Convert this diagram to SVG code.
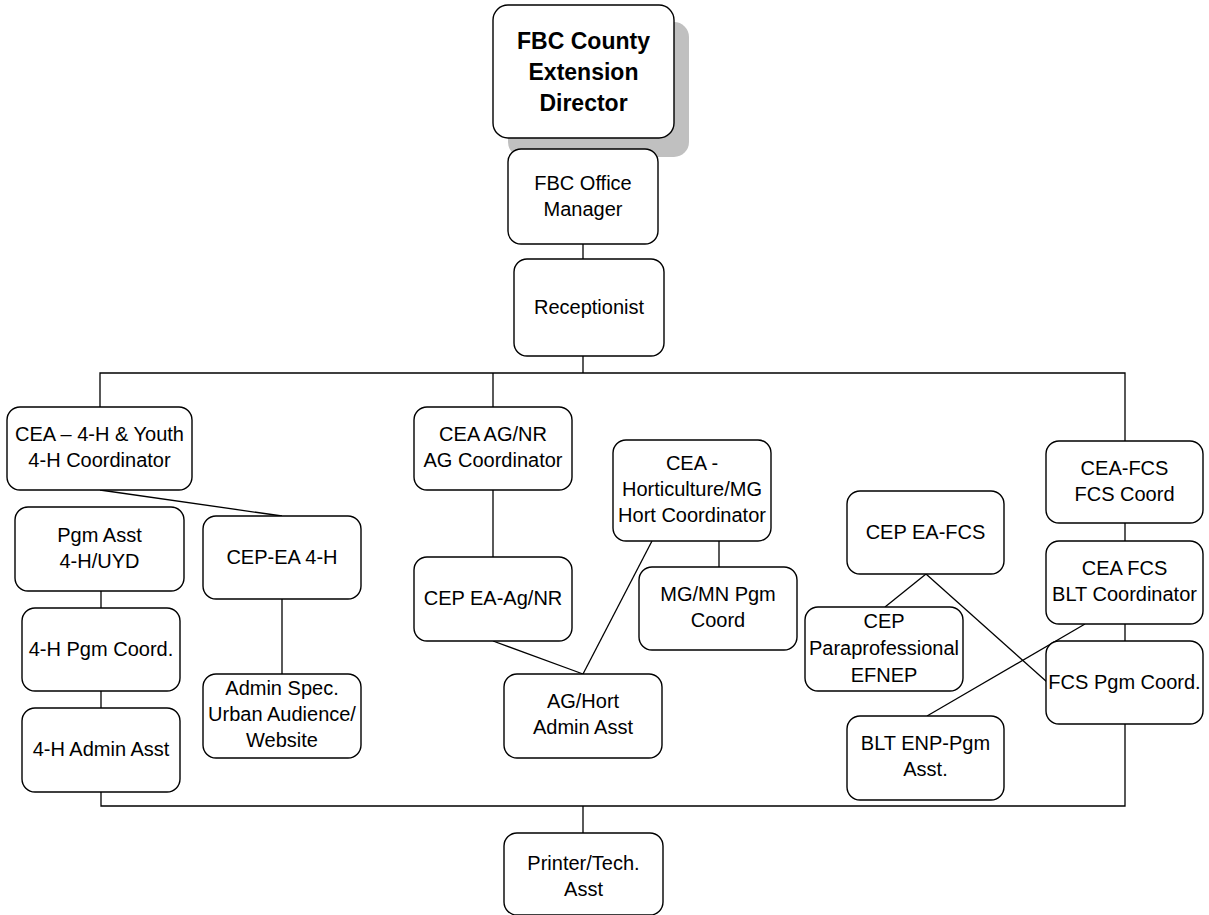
<svg xmlns="http://www.w3.org/2000/svg" width="1209" height="915" viewBox="0 0 1209 915">
  <style>
    .box { fill: #ffffff; stroke: #000000; stroke-width: 1.4; }
    .shadow { fill: #c0c0c0; stroke: none; }
    .wire { fill: none; stroke: #000000; stroke-width: 1.3; }
    text { font-family: "Liberation Sans", Arial, sans-serif; font-size: 20px; fill: #000000; text-anchor: middle; }
    .title { font-size: 23px; font-weight: bold; }
  </style>
  <rect width="1209" height="915" fill="#ffffff"/>

  <!-- connectors -->
  <g id="connectors">
    <line class="wire" x1="583" y1="138" x2="583" y2="149"/>
    <line class="wire" x1="583" y1="244" x2="583" y2="259"/>
    <line class="wire" x1="583" y1="356" x2="583" y2="373"/>
    <!-- top bus -->
    <polyline class="wire" points="100,407 100,373 1125,373 1125,441"/>
    <line class="wire" x1="493" y1="373" x2="493" y2="407"/>
    <!-- 4-H column -->
    <line class="wire" x1="100" y1="490" x2="282" y2="516"/>
    <line class="wire" x1="101" y1="591" x2="101" y2="608"/>
    <line class="wire" x1="101" y1="691" x2="101" y2="708"/>
    <line class="wire" x1="282" y1="599" x2="282" y2="674"/>
    <!-- AG / Hort -->
    <line class="wire" x1="493" y1="490" x2="493" y2="557"/>
    <line class="wire" x1="493" y1="641" x2="583" y2="674"/>
    <line class="wire" x1="652" y1="541" x2="583" y2="674"/>
    <line class="wire" x1="719" y1="541" x2="719" y2="567"/>
    <!-- FCS -->
    <line class="wire" x1="1125" y1="523" x2="1125" y2="541"/>
    <line class="wire" x1="1125" y1="624" x2="1125" y2="641"/>
    <line class="wire" x1="926" y1="574" x2="885" y2="607"/>
    <line class="wire" x1="926" y1="574" x2="1047" y2="682"/>
    <line class="wire" x1="1085" y1="624" x2="927" y2="716"/>
    <!-- bottom bus -->
    <polyline class="wire" points="101,792 101,806 1125,806 1125,724"/>
    <line class="wire" x1="583" y1="806" x2="583" y2="833"/>
  </g>

  <g id="director">
    <rect class="shadow" x="508" y="22" width="181" height="135" rx="15"/>
    <rect class="box" x="493" y="5" width="181" height="133" rx="15"/>
    <text class="title" x="583.5" y="49">FBC County</text>
    <text class="title" x="583.5" y="80">Extension</text>
    <text class="title" x="583.5" y="111">Director</text>
  </g>

  <g id="office-manager">
    <rect class="box" x="508" y="149" width="150" height="95" rx="13"/>
    <text x="583" y="190">FBC Office</text>
    <text x="583" y="216">Manager</text>
  </g>

  <g id="receptionist">
    <rect class="box" x="514" y="259" width="150" height="97" rx="13"/>
    <text x="589" y="314">Receptionist</text>
  </g>

  <g id="cea-4h">
    <rect class="box" x="7" y="407" width="185" height="83" rx="13"/>
    <text x="99.5" y="441">CEA – 4-H &amp; Youth</text>
    <text x="99.5" y="467">4-H Coordinator</text>
  </g>

  <g id="pgm-asst-4h">
    <rect class="box" x="15" y="507" width="169" height="84" rx="13"/>
    <text x="99.5" y="542">Pgm Asst</text>
    <text x="99.5" y="568">4-H/UYD</text>
  </g>

  <g id="pgm-coord-4h">
    <rect class="box" x="22" y="608" width="158" height="83" rx="13"/>
    <text x="101" y="656">4-H Pgm Coord.</text>
  </g>

  <g id="admin-asst-4h">
    <rect class="box" x="22" y="708" width="158" height="84" rx="13"/>
    <text x="101" y="756">4-H Admin Asst</text>
  </g>

  <g id="cep-ea-4h">
    <rect class="box" x="203" y="516" width="158" height="83" rx="13"/>
    <text x="282" y="564">CEP-EA 4-H</text>
  </g>

  <g id="admin-spec">
    <rect class="box" x="203" y="674" width="158" height="84" rx="13"/>
    <text x="282" y="695">Admin Spec.</text>
    <text x="282" y="721">Urban Audience/</text>
    <text x="282" y="747">Website</text>
  </g>

  <g id="cea-ag">
    <rect class="box" x="414" y="407" width="158" height="83" rx="13"/>
    <text x="493" y="441">CEA AG/NR</text>
    <text x="493" y="467">AG Coordinator</text>
  </g>

  <g id="cep-ea-ag">
    <rect class="box" x="414" y="557" width="158" height="84" rx="13"/>
    <text x="493" y="605">CEP EA-Ag/NR</text>
  </g>

  <g id="cea-hort">
    <rect class="box" x="613" y="440" width="158" height="101" rx="13"/>
    <text x="692" y="470">CEA -</text>
    <text x="692" y="496">Horticulture/MG</text>
    <text x="692" y="522">Hort Coordinator</text>
  </g>

  <g id="mg-mn">
    <rect class="box" x="639" y="567" width="158" height="83" rx="13"/>
    <text x="718" y="601">MG/MN Pgm</text>
    <text x="718" y="627">Coord</text>
  </g>

  <g id="ag-hort-admin">
    <rect class="box" x="504" y="674" width="158" height="84" rx="13"/>
    <text x="583" y="708">AG/Hort</text>
    <text x="583" y="734">Admin Asst</text>
  </g>

  <g id="cep-ea-fcs">
    <rect class="box" x="847" y="491" width="157" height="83" rx="13"/>
    <text x="925.5" y="539">CEP EA-FCS</text>
  </g>

  <g id="cep-para">
    <rect class="box" x="805" y="607" width="158" height="84" rx="13"/>
    <text x="884" y="628">CEP</text>
    <text x="884" y="655">Paraprofessional</text>
    <text x="884" y="682">EFNEP</text>
  </g>

  <g id="blt-enp">
    <rect class="box" x="847" y="716" width="157" height="84" rx="13"/>
    <text x="925.5" y="750">BLT ENP-Pgm</text>
    <text x="925.5" y="776">Asst.</text>
  </g>

  <g id="cea-fcs">
    <rect class="box" x="1046" y="441" width="157" height="82" rx="13"/>
    <text x="1124.5" y="475">CEA-FCS</text>
    <text x="1124.5" y="501">FCS Coord</text>
  </g>

  <g id="cea-fcs-blt">
    <rect class="box" x="1046" y="541" width="157" height="83" rx="13"/>
    <text x="1124.5" y="575">CEA FCS</text>
    <text x="1124.5" y="601">BLT Coordinator</text>
  </g>

  <g id="fcs-pgm-coord">
    <rect class="box" x="1046" y="641" width="157" height="83" rx="13"/>
    <text x="1124.5" y="689">FCS Pgm Coord.</text>
  </g>

  <g id="printer">
    <rect class="box" x="504" y="833" width="159" height="82" rx="13"/>
    <text x="583.5" y="870">Printer/Tech.</text>
    <text x="583.5" y="896">Asst</text>
  </g>
</svg>
